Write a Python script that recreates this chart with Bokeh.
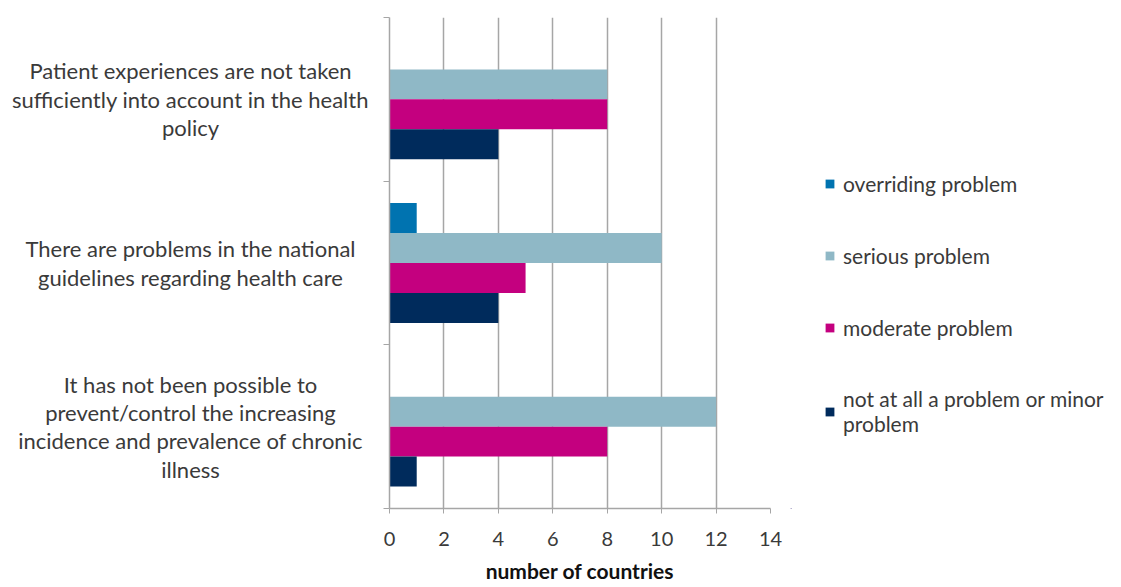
from bokeh.plotting import figure
from bokeh.models import Range1d, FixedTicker, Legend, LegendItem, ColumnDataSource
from bokeh.layouts import row
from bokeh.core.properties import value
from bokeh.embed import file_html
from bokeh.resources import INLINE

categories = [
    "Patient experiences are not taken\nsufficiently into account in the health\npolicy",
    "There are problems in the national\nguidelines regarding health care",
    "It has not been possible to\nprevent/control the increasing\nincidence and prevalence of chronic\nillness",
]
series_names = [
    "overriding problem",
    "serious problem",
    "moderate problem",
    "not at all a problem or minor\nproblem",
]
overriding = [0, 1, 0]
serious = [8, 10, 12]
moderate = [8, 5, 8]
not_at_all = [4, 4, 1]
x_ticks = [0, 2, 4, 6, 8, 10, 12, 14]

colors = ["#0073B0", "#8FB8C6", "#C4007F", "#002B5C"]
series = [overriding, serious, moderate, not_at_all]

FONT = "Lato"
TEXT = "#3a3a3a"
GRID = "#A6A6A6"
H = 587
TOP, BOTTOM = 17, 79

y_range = Range1d(len(categories), 0)

# ---- left: category labels
LW = 380
left = figure(width=LW, height=H, x_range=Range1d(0, LW), y_range=y_range,
              output_backend="svg", toolbar_location=None,
              min_border_left=0, min_border_right=0, min_border_top=TOP, min_border_bottom=BOTTOM)
left.axis.visible = False
left.grid.visible = False
left.outline_line_color = None
lsrc = ColumnDataSource(dict(x=[190] * len(categories), y=[i + 0.5 for i in range(len(categories))], t=categories))
left.text(x="x", y="y", text="t", source=lsrc, text_align="center", text_baseline="middle",
          text_font=value(FONT), text_font_size="22px", text_color=TEXT, text_line_height=1.05)

# ---- main chart
p = figure(width=410, height=H, x_range=Range1d(0, 14), y_range=y_range,
           output_backend="svg", toolbar_location=None,
           min_border_left=9, min_border_right=20, min_border_top=TOP, min_border_bottom=BOTTOM)
p.outline_line_color = None
p.ygrid.visible = False
p.xgrid.grid_line_color = GRID
p.xgrid.grid_line_width = 1.5

p.xaxis.ticker = FixedTicker(ticks=x_ticks)
p.xaxis.axis_line_color = GRID
p.xaxis.axis_line_width = 1.5
p.xaxis.major_tick_line_color = GRID
p.xaxis.major_tick_out = 5
p.xaxis.major_tick_in = 0
p.xaxis.minor_tick_line_color = None
p.xaxis.major_label_text_font = FONT
p.xaxis.major_label_text_font_size = "20px"
p.xaxis.major_label_text_color = TEXT
p.xaxis.major_label_standoff = 18
p.xaxis.axis_label = "number of countries"
p.xaxis.axis_label_text_font = FONT
p.xaxis.axis_label_text_font_style = "bold"
p.xaxis.axis_label_text_font_size = "21px"
p.xaxis.axis_label_text_color = "#111111"
p.xaxis.axis_label_standoff = 9

p.yaxis.ticker = FixedTicker(ticks=list(range(len(categories) + 1)))
p.yaxis.major_label_overrides = {i: "" for i in range(len(categories) + 1)}
p.yaxis.axis_line_color = GRID
p.yaxis.axis_line_width = 1.5
p.yaxis.major_tick_line_color = GRID
p.yaxis.major_tick_out = 6
p.yaxis.major_tick_in = 0
p.yaxis.minor_tick_line_color = None
p.yaxis.major_label_standoff = 0

bar_h = 0.183
offsets = [-1.5, -0.5, 0.5, 1.5]
for vals, col, off in zip(series, colors, offsets):
    ys = [i + 0.5 + off * bar_h for i in range(len(categories))]
    p.hbar(y=ys, left=0, right=vals, height=bar_h, fill_color=col, line_color=None)

# ---- right: legend (proxy glyphs sit outside the visible range)
RW = 325
leg = figure(width=RW, height=H, x_range=Range1d(0, RW), y_range=Range1d(0, H),
             output_backend="svg", toolbar_location=None,
             min_border_left=0, min_border_right=0, min_border_top=0, min_border_bottom=0)
leg.axis.visible = False
leg.grid.visible = False
leg.outline_line_color = None
proxies = []
for col in colors:
    proxies.append(leg.hbar(y=[-1000], left=[0], right=[1], height=1, fill_color=col, line_color=None))

legend = Legend(items=[LegendItem(label=n, renderers=[r]) for n, r in zip(series_names, proxies)],
                location=(34, 72), orientation="vertical")
legend.border_line_color = None
legend.background_fill_alpha = 0
legend.padding = 0
legend.margin = 0
legend.spacing = 46
legend.glyph_width = 11
legend.glyph_height = 11
legend.label_height = 26
legend.label_standoff = 8
legend.label_text_font = FONT
legend.label_text_font_size = "21px"
legend.label_text_color = TEXT
legend.label_text_line_height = 1.55
leg.add_layout(legend)

layout = row(left, p, leg)
open("out.html", "w").write(file_html(layout, INLINE))
